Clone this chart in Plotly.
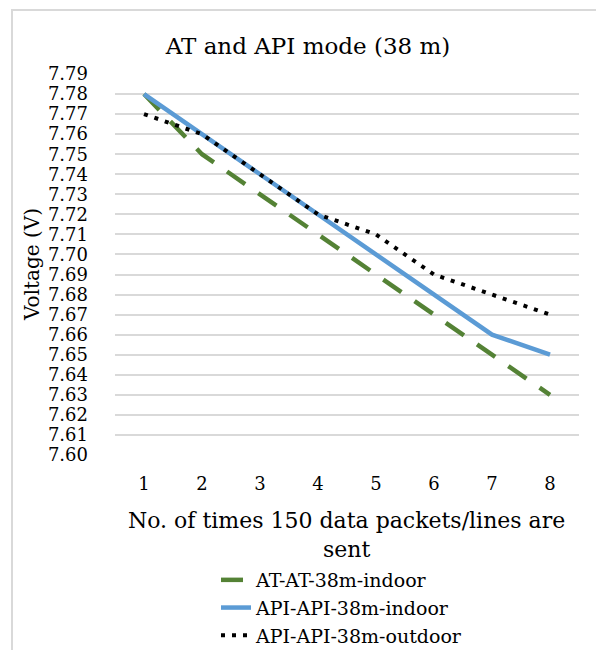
import plotly.graph_objects as go

categories = [1, 2, 3, 4, 5, 6, 7, 8]
at_indoor = [7.78, 7.75, 7.73, 7.71, 7.69, 7.67, 7.65, 7.63]
api_indoor = [7.78, 7.76, 7.74, 7.72, 7.70, 7.68, 7.66, 7.65]
api_outdoor = [7.77, 7.76, 7.74, 7.72, 7.71, 7.69, 7.68, 7.67]
y_ticks = [round(7.60 + 0.01 * i, 2) for i in range(20)]
y_ticktext = [f"{v:.2f}" for v in y_ticks]

FONT = "DejaVu Serif"
# page has an 8px body margin, so the figure is 596x642 inside the 604x650 window
W, H = 596, 642
L, R, T, B = 107, 571, 66, 447  # plot area pixels (figure coords)

fig = go.Figure()
fig.add_trace(go.Scatter(x=categories, y=at_indoor, mode="lines", name="AT-AT-38m-indoor",
                         line=dict(color="#548235", width=4.5, dash="22px,16px")))
fig.add_trace(go.Scatter(x=categories, y=api_indoor, mode="lines", name="API-API-38m-indoor",
                         line=dict(color="#5B9BD5", width=4.5)))
fig.add_trace(go.Scatter(x=categories, y=api_outdoor, mode="lines", name="API-API-38m-outdoor",
                         line=dict(color="#000000", width=4, dash="4px,7px")))

fig.update_layout(
    width=W, height=H,
    paper_bgcolor="white", plot_bgcolor="white",
    margin=dict(l=L, r=W - R, t=T, b=H - B, autoexpand=False),
    font=dict(family=FONT, color="#000000", size=18),
    title=dict(text="AT and API mode (38 m)", x=300 / W, xanchor="center",
               y=1 - 38 / H, yanchor="middle", font=dict(size=23, family=FONT)),
    xaxis=dict(range=[0.5, 8.5], tickmode="array", tickvals=categories,
               ticktext=[str(c) for c in categories], showgrid=False, zeroline=False,
               showline=False, ticks="", tickfont=dict(size=18), automargin=False,
               ticklabelstandoff=16),
    yaxis=dict(range=[7.60, 7.79], tickmode="array", tickvals=y_ticks, ticktext=y_ticktext,
               showgrid=True, gridcolor="#D9D9D9", gridwidth=1.5, zeroline=False,
               showline=False, ticks="", tickfont=dict(size=18), automargin=False,
               ticklabelstandoff=26),
    legend=dict(orientation="v", xref="container", yref="container",
                x=208 / W, xanchor="left", y=1 - 553 / H, yanchor="top",
                font=dict(size=19), bgcolor="rgba(0,0,0,0)", tracegroupgap=0),
    showlegend=True,
)

fig.add_annotation(text="Voltage (V)", textangle=-90, xref="paper", yref="paper",
                   x=(24 - L) / (R - L), y=(B - 257) / (B - T), xanchor="center", yanchor="middle",
                   showarrow=False, font=dict(size=20, family=FONT))
fig.add_annotation(text="No. of times 150 data packets/lines are<br>sent", xref="paper", yref="paper",
                   x=(338 - L) / (R - L), y=(B - 527) / (B - T), xanchor="center", yanchor="middle",
                   showarrow=False, font=dict(size=22, family=FONT))

fig.add_shape(type="rect", xref="paper", yref="paper",
              x0=(4 - L) / (R - L), x1=(620 - L) / (R - L),
              y0=(B - 670) / (B - T), y1=(B - 2) / (B - T),
              line=dict(color="#D9D9D9", width=2), fillcolor="rgba(0,0,0,0)", layer="below")

fig.write_html("out.html")
